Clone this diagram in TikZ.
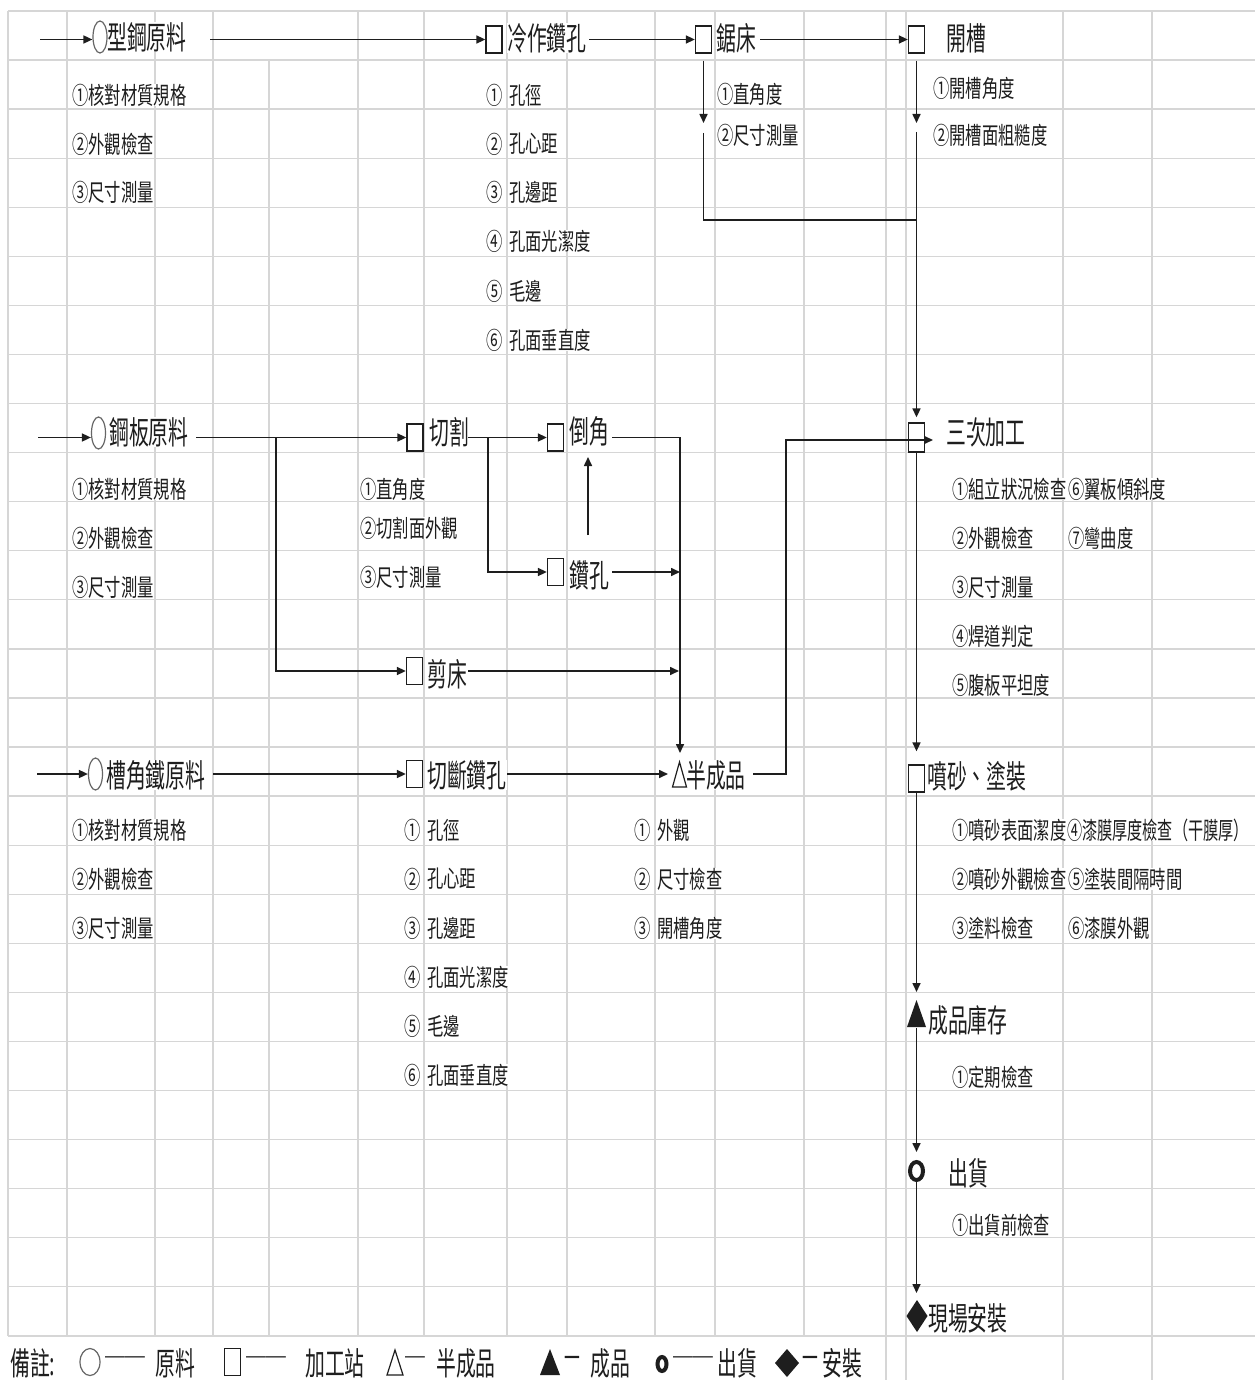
\documentclass[tikz,border=0pt]{standalone}
\usepackage{fontspec}
\usetikzlibrary{arrows.meta,shapes.geometric,calc}
\newfontfamily\bigf[FakeStretch=0.62]{Noto Sans CJK TC}
\newfontfamily\smf[FakeStretch=0.68]{Noto Sans CJK TC}
\newfontfamily\smnf[FakeStretch=0.63]{Noto Sans CJK TC}
\definecolor{gridc}{HTML}{D6D6D6}
\definecolor{ink}{HTML}{1E1E1E}
\tikzset{
 big/.style={font={\bigf\fontsize{32}{34}\selectfont}, anchor=west, inner sep=0pt, fill=white, text=ink},
 sm/.style={font={\smf\fontsize{24}{26}\selectfont}, anchor=west, inner sep=0pt, fill=white, text=ink},
 smr/.style={sm, anchor=east},
 sq/.style={draw=ink, line width=1.3pt, rectangle, minimum width=16pt, minimum height=27pt, inner sep=0pt},
 rawc/.style={draw=gray!80!black, line width=1.2pt, ellipse, minimum width=14pt, minimum height=32pt, inner sep=0pt},
 ring/.style={draw=ink, line width=4pt, ellipse, minimum width=13pt, minimum height=18pt, inner sep=0pt},
 con/.style={line width=1.6pt, draw=ink},
 arr/.style={con, -{Triangle[length=9pt,width=8pt]}},
 gl/.style={draw=gridc, line width=1.3pt},
}
\begin{document}
\begin{tikzpicture}[x=1pt,y=-1pt]
\useasboundingbox (0,0) rectangle (1255,1380);
\fill[white] (0,0) rectangle (1255,1380);
% ---------- grid ----------
\foreach \k in {0,...,27} \draw[gl] (8,{11+49.07*\k}) -- (1255,{11+49.07*\k});
\foreach \x in {8,67,155,213,358,424,507,567,655,715,804} \draw[gl] (\x,11) -- (\x,1336);
\draw[gl] (269,60) -- (269,1336);
\foreach \x in {886,906,1063,1152} \draw[gl] (\x,11) -- (\x,1380);

% ---------- main labels ----------
\node[big] (t1) at (107,37) {型鋼原料};
\node[big] (t2) at (507,38) {冷作鑽孔};
\node[big] (t3) at (716,38) {鋸床};
\node[big] (t4) at (946,38) {開槽};
\node[big] (t5) at (109,432) {鋼板原料};
\node[big] (t6) at (429,432) {切割};
\node[big] (t7) at (569,431) {倒角};
\node[big] (t8) at (569,575) {鑽孔};
\node[big] (t9) at (427,674) {剪床};
\node[big] (t10) at (106,775) {槽角鐵原料};
\node[big] (t11) at (427,775) {切斷鑽孔};
\node[big] (t12) at (686,775) {半成品};
\node[big] (t13) at (946,432) {三次加工};
\node[big] (t14) at (927,776) {噴砂、塗裝};
\node[big] (t15) at (928,1020) {成品庫存};
\node[big] (t16) at (948,1173) {出貨};
\node[big] (t17) at (928,1318) {現場安裝};

% ---------- inspection lists ----------
\node[sm] (a11) at (72,95) {①核對材質規格};
\node[sm] (a12) at (72,144) {②外觀檢查};
\node[sm] (a13) at (72,192) {③尺寸測量};
\node[sm] (a21) at (72,489) {①核對材質規格};
\node[sm] (a22) at (72,538) {②外觀檢查};
\node[sm] (a23) at (72,587) {③尺寸測量};
\node[sm] (a31) at (72,830) {①核對材質規格};
\node[sm] (a32) at (72,879) {②外觀檢查};
\node[sm] (a33) at (72,928) {③尺寸測量};

\node[smr] (n11) at (503,95) {①}; \node[sm] (b11) at (509,95) {孔徑};
\node[smr] (n12) at (503,144) {②}; \node[sm] (b12) at (509,144) {孔心距};
\node[smr] (n13) at (503,192) {③}; \node[sm] (b13) at (509,192) {孔邊距};
\node[smr] (n14) at (503,241) {④}; \node[sm] (b14) at (509,241) {孔面光潔度};
\node[smr] (n15) at (503,291) {⑤}; \node[sm] (b15) at (509,291) {毛邊};
\node[smr] (n16) at (503,340) {⑥}; \node[sm] (b16) at (509,340) {孔面垂直度};

\node[sm] (c11) at (717,94) {①直角度};
\node[sm] (c12) at (717,135) {②尺寸測量};
\node[sm] (d11) at (933,88) {①開槽角度};
\node[sm] (d12) at (933,135) {②開槽面粗糙度};

\node[sm] (e11) at (360,489) {①直角度};
\node[sm] (e12) at (360,528) {②切割面外觀};
\node[sm] (e13) at (360,577) {③尺寸測量};

\node[sm] (f11) at (952,489) {①組立狀況檢查};
\node[sm] (f12) at (952,538) {②外觀檢查};
\node[sm] (f13) at (952,587) {③尺寸測量};
\node[sm] (f14) at (952,636) {④焊道判定};
\node[sm] (f15) at (952,685) {⑤腹板平坦度};
\node[sm] (f16) at (1068,489) {⑥翼板傾斜度};
\node[sm] (f17) at (1068,538) {⑦彎曲度};

\node[smr] (n21) at (421,830) {①}; \node[sm] (g11) at (427,830) {孔徑};
\node[smr] (n22) at (421,879) {②}; \node[sm] (g12) at (427,879) {孔心距};
\node[smr] (n23) at (421,928) {③}; \node[sm] (g13) at (427,928) {孔邊距};
\node[smr] (n24) at (421,977) {④}; \node[sm] (g14) at (427,977) {孔面光潔度};
\node[smr] (n25) at (421,1026) {⑤}; \node[sm] (g15) at (427,1026) {毛邊};
\node[smr] (n26) at (421,1075) {⑥}; \node[sm] (g16) at (427,1075) {孔面垂直度};

\node[smr] (n31) at (651,830) {①}; \node[sm] (h11) at (657,830) {外觀};
\node[smr] (n32) at (651,879) {②}; \node[sm] (h12) at (657,879) {尺寸檢查};
\node[smr] (n33) at (651,928) {③}; \node[sm] (h13) at (657,928) {開槽角度};

\node[sm] (i11) at (952,830) {①噴砂表面潔度};
\node[sm] (i12) at (952,879) {②噴砂外觀檢查};
\node[sm] (i13) at (952,928) {③塗料檢查};
\node[sm, font={\smnf\fontsize{24}{26}\selectfont}] (i14) at (1067,830) {④漆膜厚度檢查（干膜厚）};
\node[sm] (i15) at (1068,879) {⑤塗裝間隔時間};
\node[sm] (i16) at (1068,928) {⑥漆膜外觀};

\node[sm] (j11) at (952,1077) {①定期檢查};
\node[sm] (j12) at (952,1225) {①出貨前檢查};

% ---------- symbols ----------
\node[rawc] (c1) at (100,37) {};
\node[sq] (s1) at (494,39.5) {};
\node[sq] (s2) at (703.5,39.5) {};
\node[sq] (s3) at (916.5,39.5) {};
\node[rawc] (c2) at (98.5,433) {};
\node[sq] (m1) at (415,437.5) {};
\node[sq] (m2) at (555.5,437.5) {};
\node[sq] (m4) at (555.5,572) {};
\node[sq] (m6) at (414.5,671) {};
\node[rawc] (c3) at (95.5,774) {};
\node[sq] (m5) at (414.5,774) {};
\node[sq, minimum height=29pt] (m3) at (916.5,437.5) {};
\node[sq] (m8) at (916.5,778.5) {};
\draw[ink, line width=1.2pt] (672.5,787) -- (679.5,762) -- (686.5,787) -- cycle;
\fill[ink] (907,1027) -- (916.5,1000) -- (926,1027) -- cycle;
\node[ring] (r1) at (916.5,1171) {};
\fill[ink] (917,1300) -- (927.5,1316) -- (917,1332) -- (906.5,1316) -- cycle;

% ---------- connectors ----------
\coordinate (e1) at (40,39.5);
\coordinate (p0) at (210,39.5);
\coordinate (p1) at (589,39.5);
\coordinate (p2) at (760,39.5);
\draw[arr] (e1) -- (c1.west |- e1);
\draw[arr] (p0) -- (s1.west);
\draw[arr] (p1) -- (s2.west);
\draw[arr] (p2) -- (s3.west);
\coordinate (k1) at (703.5,123);
\coordinate (k2) at (703.5,133);
\coordinate (j1) at (916.5,220);
\coordinate (k3) at (916.5,123);
\coordinate (k4) at (916.5,132);
\draw[arr, shorten <=7pt] (s2.south) -- (k1);
\draw[con] (k2) |- (j1);
\draw[arr, shorten <=7pt] (s3.south) -- (k3);
\draw[arr, shorten >=5pt] (k4) -- (m3.north);

\coordinate (e2) at (38,437.5);
\coordinate (q0) at (196,437.5);
\coordinate (b1) at (276,437.5);
\coordinate (q1) at (468,437.5);
\coordinate (b2) at (488,437.5);
\draw[arr] (e2) -- (c2.west |- e2);
\draw[arr] (q0) -- (m1.west);
\draw[arr] (b1) |- (m6.west);
\draw[arr] (q1) -- (m2.west);
\draw[arr] (b2) |- (m4.west);
\coordinate (u1) at (588,535);
\coordinate (u2) at (588,457);
\draw[arr] (u1) -- (u2);
\coordinate (q2) at (612,437.5);
\coordinate (v1) at (680,437.5);
\coordinate (hp) at (680,753);
\draw[arr] (q2) -- (v1) -- (hp);
\coordinate (q3) at (612,572);
\coordinate (v2) at (680,572);
\draw[arr] (q3) -- (v2);
\coordinate (q4) at (468,671);
\coordinate (v3) at (679,671);
\draw[arr] (q4) -- (v3);

\coordinate (e3) at (37,774);
\coordinate (w0) at (213,774);
\coordinate (w1) at (507,774);
\coordinate (hl) at (668,774);
\draw[arr] (e3) -- (c3.west |- e3);
\draw[arr] (w0) -- (m5.west);
\draw[arr] (w1) -- (hl);
\coordinate (w2) at (753,774);
\coordinate (g1) at (786,774);
\coordinate (g2) at (933,440);
\draw[arr] (w2) -- (g1) |- (g2);

\coordinate (tp) at (916.5,1000);
\coordinate (tb) at (916.5,1028);
\coordinate (dp) at (916.5,1300);
\draw[arr, shorten >=13pt] (m3.south) -- (m8.north);
\draw[arr, shorten >=8pt] (m8.south) -- (tp);
\draw[arr, shorten >=8pt] (tb) -- (r1.north);
\draw[arr, shorten >=7pt] (r1.south) -- (dp);

% ---------- legend ----------
\node[big] (L0) at (10,1363) {備註:};
\node[rawc, minimum width=20pt, minimum height=27pt] (L1) at (90,1362) {};
\node[big] (L2) at (105,1363) {──};
\node[big] (L3) at (155,1363) {原料};
\node[sq] (L4) at (232.5,1362) {};
\node[big] (L5) at (246,1363) {──};
\node[big] (L6) at (305,1363) {加工站};
\draw[ink, line width=1.2pt] (387,1375) -- (395,1350) -- (403,1375) -- cycle;
\node[big] (L7) at (405,1363) {─};
\node[big] (L8) at (436,1363) {半成品};
\fill[ink] (540,1375) -- (550,1349) -- (560,1375) -- cycle;
\node[big] (L9) at (562,1363) {－};
\node[big] (L10) at (590,1363) {成品};
\node[ring, minimum width=9pt, minimum height=14pt] (L11) at (662,1364) {};
\node[big] (L12) at (673,1363) {──};
\node[big] (L13) at (717,1363) {出貨};
\fill[ink] (787,1349) -- (799,1363) -- (787,1377) -- (775,1363) -- cycle;
\node[big] (L14) at (800,1363) {－};
\node[big] (L15) at (822,1363) {安裝};
\end{tikzpicture}
\end{document}
